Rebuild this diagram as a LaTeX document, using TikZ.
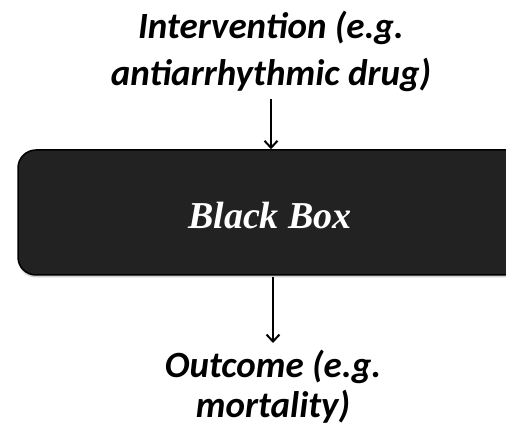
\documentclass[tikz,border=0pt]{standalone}
\usepackage{fontspec}
\setmainfont{Carlito}
\newfontfamily\boxfont{Liberation Serif}
\usetikzlibrary{arrows.meta,shadows}
\begin{document}
\begin{tikzpicture}[x=1pt,y=-1pt,
  label/.style={font=\fontsize{37}{47}\selectfont\bfseries\itshape, align=center, text=black, inner sep=0pt},
  blackbox/.style={draw=black, line width=1.5pt, fill={rgb,255:red,34;green,34;blue,34}, rounded corners=18pt,
    minimum width=510pt, minimum height=125pt, inner sep=0pt,
    drop shadow={shadow xshift=0pt, shadow yshift=-2.5pt, opacity=0.35}},
  boxtext/.style={font=\boxfont\fontsize{38}{40}\selectfont\bfseries\itshape, text=white, inner sep=0pt},
  flow/.style={line width=2pt, -{Straight Barb[length=7pt,width=13pt,line width=2pt]}}
]
\useasboundingbox (0,0) rectangle (506,430);
\clip (0,0) rectangle (506,430);
\fill[white] (0,0) rectangle (506,430);

\node[label, anchor=base] (in1) at (271,39) {Intervention (e.g.};
\node[label, anchor=base] (in2) at (271,86) {antiarrhythmic drug)};
\node[blackbox] (box) at (273,212.5) {};
\node[boxtext, anchor=base] (bb) at (270,229) {Black Box};
\node[label, anchor=base] (out1) at (273,377) {Outcome (e.g.};
\node[label, anchor=base] (out2) at (273,417) {mortality)};

\coordinate (a1) at (271,99);
\coordinate (b1) at (273,277);
\coordinate (b2) at (273,343);
\draw[flow] (a1) -- (a1 |- box.north);
\draw[flow] (b1) -- (b2);
\end{tikzpicture}
\end{document}
